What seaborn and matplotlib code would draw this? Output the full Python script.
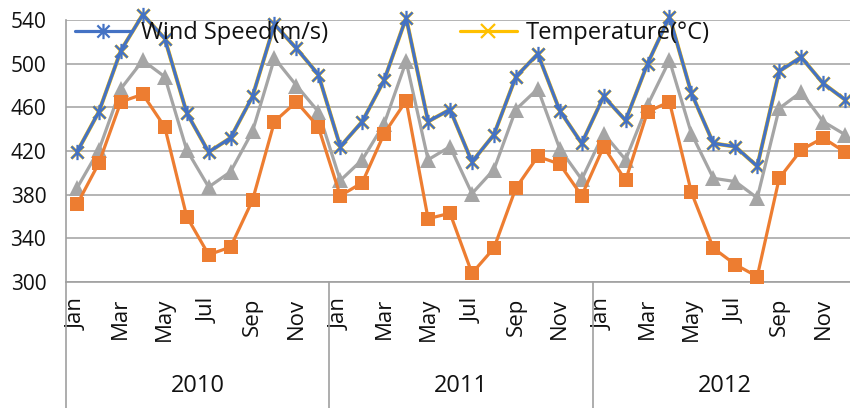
import matplotlib
matplotlib.use("Agg")
import matplotlib.pyplot as plt
import matplotlib.transforms as mtransforms
from matplotlib.lines import Line2D
from matplotlib.path import Path
import numpy as np
import pandas as pd
import seaborn as sns

# ---- data -------------------------------------------------------------
years = ["2010", "2011", "2012"]
month_names = ["Jan", "Feb", "Mar", "Apr", "May", "Jun",
               "Jul", "Aug", "Sep", "Oct", "Nov", "Dec"]

wind_speed = [419, 456, 512, 545, 523, 455, 419, 432, 470, 536, 514, 490,
              424, 447, 485, 542, 447, 458, 410, 435, 488, 509, 457, 427,
              470, 448, 500, 543, 473, 427, 424, 406, 493, 506, 482, 467]

temperature = [419, 456, 512, 545, 523, 455, 419, 432, 470, 536, 514, 490,
               424, 447, 485, 542, 447, 458, 410, 435, 488, 509, 457, 427,
               470, 448, 500, 543, 473, 427, 424, 406, 493, 506, 482, 467]

series_gray = [386, 421, 477, 503, 488, 421, 387, 401, 438, 505, 480, 456,
               393, 412, 445, 502, 412, 424, 381, 403, 458, 477, 422, 394,
               436, 412, 462, 503, 436, 395, 392, 377, 459, 474, 447, 435]

series_orange = [371, 409, 465, 472, 442, 360, 325, 332, 375, 447, 465, 442,
                 379, 391, 436, 466, 358, 363, 308, 331, 386, 415, 408, 379,
                 424, 393, 456, 465, 382, 331, 316, 305, 395, 421, 432, 419]

y_ticks = [300, 340, 380, 420, 460, 500, 540]

n = len(wind_speed)
df = pd.DataFrame({
    "idx": np.arange(n),
    "wind": wind_speed,
    "temp": temperature,
    "gray": series_gray,
    "orange": series_orange,
})

# ---- style ------------------------------------------------------------
sns.set_style("white")
plt.rcParams["font.family"] = ["Open Sans", "DejaVu Sans"]

AXIS_GRAY = "#a0a0a0"
BLUE = "#4472C4"
YELLOW = "#FFC000"
GRAY = "#A5A5A5"
ORANGE = "#ED7D31"

# star marker: an "x" crossed by a vertical bar
STAR = Path(
    [(-1, -1), (1, 1), (-1, 1), (1, -1), (0, -1.25), (0, 1.25)],
    [Path.MOVETO, Path.LINETO, Path.MOVETO, Path.LINETO,
     Path.MOVETO, Path.LINETO],
)
CROSS = Path(
    [(-1, -1), (1, 1), (-1, 1), (1, -1), (0, -1.25), (0, -1.25)],
    [Path.MOVETO, Path.LINETO, Path.MOVETO, Path.LINETO,
     Path.MOVETO, Path.LINETO],
)

W, H = 850, 408
fig = plt.figure(figsize=(W / 100, H / 100), dpi=100)
ax = fig.add_axes([66 / W, (H - 282) / H, 790 / W, (282 - 20) / H])

# ---- series -----------------------------------------------------------
sns.lineplot(data=df, x="idx", y="temp", ax=ax, color=YELLOW, linewidth=2.9,
             marker=CROSS, markersize=11, markeredgewidth=2.2,
             markeredgecolor=YELLOW, zorder=3, clip_on=False)
sns.lineplot(data=df, x="idx", y="wind", ax=ax, color=BLUE, linewidth=2.3,
             marker=STAR, markersize=11, markeredgewidth=1.6,
             markeredgecolor=BLUE, zorder=4, clip_on=False)
sns.lineplot(data=df, x="idx", y="gray", ax=ax, color=GRAY, linewidth=2.3,
             marker="^", markersize=11, markeredgewidth=0,
             markerfacecolor=GRAY, zorder=5, clip_on=False)
sns.lineplot(data=df, x="idx", y="orange", ax=ax, color=ORANGE, linewidth=2.3,
             marker="s", markersize=10, markeredgewidth=0,
             markerfacecolor=ORANGE, zorder=6, clip_on=False)

# ---- axes -------------------------------------------------------------
ax.set_xlim(-0.5, n - 0.5)
ax.set_ylim(300, 540)
ax.set_xlabel("")
ax.set_ylabel("")

for side in ("top", "right"):
    ax.spines[side].set_visible(False)
for side in ("left", "bottom"):
    ax.spines[side].set_color(AXIS_GRAY)
    ax.spines[side].set_linewidth(1.2)

# y axis: labelled majors every 40, minors every 10
ax.set_yticks(y_ticks)
ax.set_yticklabels([str(v) for v in y_ticks])
ax.set_yticks(np.arange(300, 541, 10), minor=True)
ax.tick_params(axis="y", which="both", direction="inout", length=11.5,
               width=1.1, color=AXIS_GRAY, pad=8.5, labelsize=15,
               labelcolor="#111111")
ax.yaxis.grid(True, which="major", color=AXIS_GRAY, linewidth=1.1)
ax.set_axisbelow(True)

# x axis: boundaries between months as majors, month centres as minors
ax.set_xticks(np.arange(-0.5, n, 1.0))
ax.set_xticklabels([""] * len(np.arange(-0.5, n, 1.0)))
ax.set_xticks(np.arange(n), minor=True)
month_labels = [month_names[i % 12] if i % 2 == 0 else "" for i in range(n)]
ax.set_xticklabels(month_labels, minor=True, rotation=90, ha="center",
                   va="top")
ax.tick_params(axis="x", which="major", direction="out", length=45,
               width=1.1, color=AXIS_GRAY)
ax.tick_params(axis="x", which="minor", direction="inout", length=9.5,
               width=1.1, color=AXIS_GRAY, pad=6.5, labelsize=16,
               labelcolor="#111111")

# year separators and year labels below the month labels
trans = mtransforms.blended_transform_factory(ax.transData, ax.transAxes)
axes_h_px = 282 - 20
for b in (-0.5, 11.5, 23.5, 35.5):
    ax.plot([b, b], [0, -(H - 282) / axes_h_px], transform=trans,
            color=AXIS_GRAY, linewidth=1.2, clip_on=False, zorder=1)
for k, yr in enumerate(years):
    ax.text(12 * k + 5.5, -(386 - 282) / axes_h_px, yr, transform=trans,
            ha="center", va="center", fontsize=17, color="#111111")

# ---- legend (two entries placed along the top) ----------------------
h_wind = Line2D([], [], color=BLUE, linewidth=2.3, marker=STAR,
                markersize=11, markeredgewidth=1.6, markeredgecolor=BLUE)
h_temp = Line2D([], [], color=YELLOW, linewidth=2.3, marker="x",
                markersize=10, markeredgewidth=1.6, markeredgecolor=YELLOW)
leg1 = fig.legend(handles=[h_wind], labels=["Wind Speed(m/s)"],
                  loc="center left", bbox_to_anchor=(75 / W, 1 - 33 / H),
                  frameon=False, fontsize=17, handlelength=2.4,
                  handletextpad=0.4, borderpad=0, borderaxespad=0)
leg2 = fig.legend(handles=[h_temp], labels=["Temperature(°C)"],
                  loc="center left", bbox_to_anchor=(460 / W, 1 - 33 / H),
                  frameon=False, fontsize=17, handlelength=2.4,
                  handletextpad=0.4, borderpad=0, borderaxespad=0)
for leg in (leg1, leg2):
    for t in leg.get_texts():
        t.set_color("#111111")
    leg.set_zorder(10)

fig.savefig("out.png", dpi=100)
